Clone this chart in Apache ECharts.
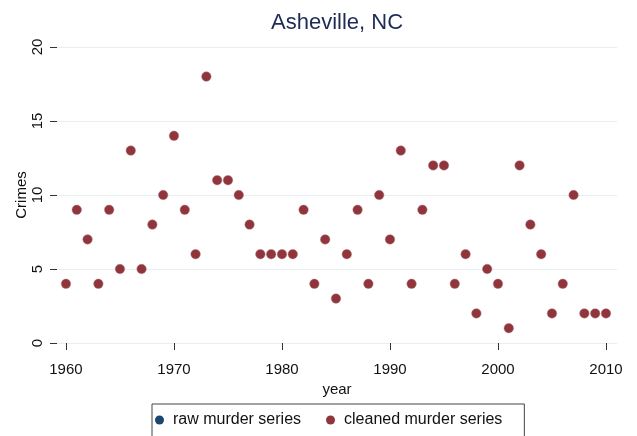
<!DOCTYPE html>
<html>
<head>
<meta charset="utf-8">
<script src="https://cdn.jsdelivr.net/npm/echarts@6/dist/echarts.min.js"></script>
<style>html,body{margin:0;padding:0;background:#fff}#c{width:637px;height:436px}</style>
</head>
<body>
<div id="c"></div>
<script>
var years = [1960,1961,1962,1963,1964,1965,1966,1967,1968,1969,1970,1971,1972,1973,1974,1975,1976,1977,1978,1979,1980,1981,1982,1983,1984,1985,1986,1987,1988,1989,1990,1991,1992,1993,1994,1995,1996,1997,1998,1999,2000,2001,2002,2003,2004,2005,2006,2007,2008,2009,2010];
var rawMurders = [4,9,7,4,9,5,13,5,8,10,14,9,6,18,11,11,10,8,6,6,6,6,9,4,7,3,6,9,4,10,7,13,4,9,12,12,4,6,2,5,4,1,12,8,6,2,4,10,2,2,2];
var cleanedMurders = [4,9,7,4,9,5,13,5,8,10,14,9,6,18,11,11,10,8,6,6,6,6,9,4,7,3,6,9,4,10,7,13,4,9,12,12,4,6,2,5,4,1,12,8,6,2,4,10,2,2,2];
var xTicks = [1960,1970,1980,1990,2000,2010];
var yTicks = [0,5,10,15,20];
var seriesNames = ['raw murder series','cleaned murder series'];

function pairs(v){ return years.map(function(y,i){return [y, v[i]];}); }

var chart = echarts.init(document.getElementById('c'), null, {renderer:'canvas'});
var font = 'Liberation Sans, Arial, sans-serif';
chart.setOption({
  animation:false,
  backgroundColor:'#ffffff',
  title:{text:'Asheville, NC', left:266, top:7, textStyle:{fontFamily:font, fontSize:22, fontWeight:'normal', color:'#1e2b55'}},
  grid:{left:57, right:20, top:47, bottom:93},
  legend:{
    data:seriesNames, top:404, left:152,
    icon:'circle', itemWidth:9, itemHeight:9, itemGap:25,
    itemStyle:{borderWidth:0},
    borderColor:'#444', borderWidth:1, padding:[8,22,20,3],
    textStyle:{fontFamily:font, fontSize:16, color:'#111', padding:[0,0,0,4]}
  },
  xAxis:{
    type:'value', min:1959.17, max:2011.02,
    name:'year', nameLocation:'middle', nameGap:24,
    nameTextStyle:{fontFamily:font, fontSize:15, color:'#111'},
    offset:14,
    axisLine:{show:false},
    axisTick:{show:true, length:7, lineStyle:{color:'#333'}, customValues:xTicks},
    axisLabel:{fontFamily:font, fontSize:15, color:'#111', margin:5, customValues:xTicks, formatter:function(v){return String(v);}},
    splitLine:{show:false}
  },
  yAxis:{
    type:'value', min:0, max:20, interval:5,
    name:'Crimes', nameLocation:'middle', nameGap:28, nameRotate:90, nameMoveOverlap:false,
    nameTextStyle:{fontFamily:font, fontSize:15, color:'#111'},
    axisLine:{show:false},
    axisTick:{show:true, length:7, lineStyle:{color:'#333'}},
    axisLabel:{fontFamily:font, fontSize:15, color:'#111', margin:12, rotate:90, align:'center', verticalAlign:'bottom'},
    splitLine:{show:true, lineStyle:{color:'#e6eef1', width:1}}
  },
  series:[
    {name:seriesNames[0], type:'scatter', data:pairs(rawMurders), symbol:'circle', symbolSize:8, itemStyle:{color:'#1a476f', opacity:1}},
    {name:seriesNames[1], type:'scatter', data:pairs(cleanedMurders), symbol:'circle', symbolSize:9.5, itemStyle:{color:'#90353b', opacity:1, borderColor:'#b07a80', borderWidth:0.5}}
  ]
});
</script>
</body>
</html>
